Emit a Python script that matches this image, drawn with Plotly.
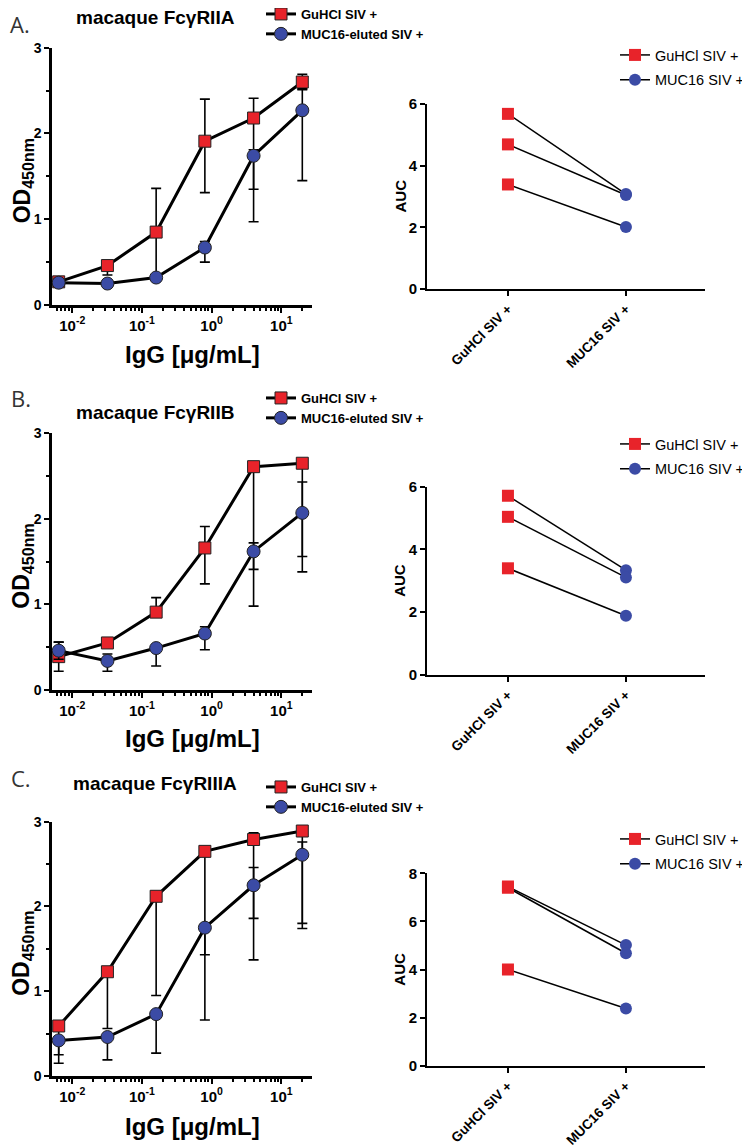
import plotly.graph_objects as go

# concentrations (5-fold dilution series, ug/mL)
igg_conc = [0.0064, 0.032, 0.16, 0.8, 4, 20]

# A. FcgRIIA
fc2a_guhcl = [0.27, 0.46, 0.85, 1.91, 2.18, 2.60]
fc2a_guhcl_up = [0.03, 0.02, 0.51, 0.49, 0.23, 0.09]
fc2a_guhcl_dn = [0.03, 0.11, 0.50, 0.60, 0.83, 0.09]
fc2a_muc16 = [0.26, 0.25, 0.32, 0.67, 1.74, 2.27]
fc2a_muc16_up = [0.0, 0.0, 0.0, 0.07, 0.07, 0.25]
fc2a_muc16_dn = [0.0, 0.0, 0.0, 0.17, 0.77, 0.82]

# B. FcgRIIB
fc2b_guhcl = [0.39, 0.55, 0.91, 1.66, 2.61, 2.65]
fc2b_guhcl_up = [0.17, 0.02, 0.17, 0.25, 0.0, 0.0]
fc2b_guhcl_dn = [0.17, 0.02, 0.0, 0.42, 1.20, 1.09]
fc2b_muc16 = [0.46, 0.34, 0.49, 0.66, 1.62, 2.07]
fc2b_muc16_up = [0.10, 0.08, 0.0, 0.08, 0.10, 0.36]
fc2b_muc16_dn = [0.10, 0.12, 0.21, 0.19, 0.64, 0.69]

# C. FcgRIIIA
fc3a_guhcl = [0.59, 1.23, 2.12, 2.65, 2.79, 2.89]
fc3a_guhcl_up = [0.0, 0.0, 0.0, 0.0, 0.08, 0.0]
fc3a_guhcl_dn = [0.34, 0.67, 1.17, 1.22, 0.93, 1.09]
fc3a_muc16 = [0.42, 0.46, 0.73, 1.75, 2.25, 2.61]
fc3a_muc16_up = [0.0, 0.0, 0.0, 0.0, 0.21, 0.15]
fc3a_muc16_dn = [0.27, 0.27, 0.46, 1.09, 0.88, 0.87]

# AUC pairs
auc_cats = ["GuHCl SIV +", "MUC16 SIV +"]
auc_a_guhcl = [5.68, 4.69, 3.39]
auc_a_muc16 = [3.08, 3.05, 2.01]
auc_b_guhcl = [5.71, 5.04, 3.40]
auc_b_muc16 = [3.34, 3.11, 1.89]
auc_c_guhcl = [7.45, 7.40, 4.01]
auc_c_muc16 = [5.02, 4.68, 2.39]

panel_letters = ["A.", "B.", "C."]
panel_titles = ["macaque FcγRIIA", "macaque FcγRIIB", "macaque FcγRIIIA"]
log_ticks = [0.01, 0.1, 1, 10]
log_ticktext = ["10<sup>-2</sup>", "10<sup>-1</sup>", "10<sup>0</sup>", "10<sup>1</sup>"]

RED = "#E8232A"
BLUE = "#3B4BA5"
FONT = "Liberation Sans, Arial, sans-serif"

# the page body has an 8px margin, so the figure is drawn 8px in from the window edge
OFF = 8
W, H = 750 - OFF, 1148 - OFF


def px(x):
    # window pixel -> paper fraction
    return (x - OFF) / W


def py(y):
    return 1 - (y - OFF) / H


fig = go.Figure()

# pixel geometry of each row (window pixels)
rows = [
    dict(l0=305, l3=47.7, r0=289, rt=104, rmax=6, title_y=17, letter_y=None, xt_y=355,
         leg_l=-1, leg_r=39),
    dict(l0=690, l3=433.3, r0=675, rt=486.7, rmax=6, title_y=412, letter_y=398, xt_y=738,
         leg_l=383, leg_r=428),
    dict(l0=1076, l3=821.7, r0=1066, rt=873.3, rmax=8, title_y=783, letter_y=778, xt_y=1126,
         leg_l=772, leg_r=823),
]

left_data = [
    (fc2a_guhcl, fc2a_guhcl_up, fc2a_guhcl_dn, fc2a_muc16, fc2a_muc16_up, fc2a_muc16_dn),
    (fc2b_guhcl, fc2b_guhcl_up, fc2b_guhcl_dn, fc2b_muc16, fc2b_muc16_up, fc2b_muc16_dn),
    (fc3a_guhcl, fc3a_guhcl_up, fc3a_guhcl_dn, fc3a_muc16, fc3a_muc16_up, fc3a_muc16_dn),
]
right_data = [
    (auc_a_guhcl, auc_a_muc16),
    (auc_b_guhcl, auc_b_muc16),
    (auc_c_guhcl, auc_c_muc16),
]

minor_vals = [m * 10 ** k for k in range(-3, 2) for m in range(2, 10)]

annotations = []
layout = {}

for i, row in enumerate(rows):
    xl, yl = 2 * i + 1, 2 * i + 1
    xr, yr = 2 * i + 2, 2 * i + 2
    xl_name = "x" if xl == 1 else f"x{xl}"
    yl_name = "y" if yl == 1 else f"y{yl}"
    xr_name, yr_name = f"x{xr}", f"y{yr}"
    leg_l = "legend" if i == 0 else f"legend{2 * i + 1}"
    leg_r = f"legend{2 * i + 2}"

    g, gu, gd, m, mu, md = left_data[i]
    fig.add_trace(go.Scatter(
        x=igg_conc, y=g, name="GuHCl SIV +", mode="lines+markers",
        line=dict(color="black", width=3),
        marker=dict(symbol="square", size=12, color=RED, line=dict(color="#222", width=1)),
        error_y=dict(type="data", symmetric=False, array=gu, arrayminus=gd,
                     color="black", thickness=1.6, width=5),
        xaxis=xl_name, yaxis=yl_name, legend=leg_l,
    ))
    fig.add_trace(go.Scatter(
        x=igg_conc, y=m, name="MUC16-eluted SIV +", mode="lines+markers",
        line=dict(color="black", width=3),
        marker=dict(symbol="circle", size=13, color=BLUE, line=dict(color="#222", width=1)),
        error_y=dict(type="data", symmetric=False, array=mu, arrayminus=md,
                     color="black", thickness=1.6, width=5),
        xaxis=xl_name, yaxis=yl_name, legend=leg_l,
    ))

    ag, am = right_data[i]
    for a, b in zip(ag, am):
        fig.add_trace(go.Scatter(
            x=auc_cats, y=[a, b], mode="lines", line=dict(color="black", width=1.5),
            showlegend=False, xaxis=xr_name, yaxis=yr_name,
        ))
    xs_g, ys_g, xs_m, ys_m = [], [], [], []
    for a in ag:
        xs_g += [auc_cats[0], None]
        ys_g += [a, None]
    for b in am:
        xs_m += [auc_cats[1], None]
        ys_m += [b, None]
    fig.add_trace(go.Scatter(
        x=xs_g, y=ys_g, name="GuHCl SIV +", mode="lines+markers",
        line=dict(color="black", width=1.5),
        marker=dict(symbol="square", size=12, color=RED),
        xaxis=xr_name, yaxis=yr_name, legend=leg_r, legendgroup=f"g{i}",
    ))
    fig.add_trace(go.Scatter(
        x=xs_m, y=ys_m, name="MUC16 SIV +", mode="lines+markers",
        line=dict(color="black", width=1.5),
        marker=dict(symbol="circle", size=12, color=BLUE),
        xaxis=xr_name, yaxis=yr_name, legend=leg_r, legendgroup=f"m{i}",
    ))

    # axes
    ytickfont = dict(family=FONT, size=14, color="black", weight="bold")
    xtickfont = dict(family=FONT, size=15, color="black", weight="bold")
    layout[("xaxis" if xl == 1 else f"xaxis{xl}")] = dict(
        type="log", range=[-2.29, 1.44], domain=[px(52), px(312)], anchor=yl_name,
        showline=True, linewidth=2.5, linecolor="black", ticks="outside", ticklen=5,
        tickwidth=2, tickcolor="black", tickvals=log_ticks, ticktext=log_ticktext,
        tickfont=xtickfont, showgrid=False, zeroline=False,
        minor=dict(tickvals=minor_vals, ticks="outside", ticklen=3, tickwidth=1.5,
                   tickcolor="black", showgrid=False),
    )
    layout[("yaxis" if yl == 1 else f"yaxis{yl}")] = dict(
        range=[0, 3], domain=[py(row["l0"]), py(row["l3"])], anchor=xl_name,
        showline=True, linewidth=2.5, linecolor="black", ticks="outside", ticklen=5,
        tickwidth=2, tickcolor="black", dtick=1, tickfont=ytickfont,
        showgrid=False, zeroline=False,
        minor=dict(dtick=0.5, ticks="outside", ticklen=3, tickwidth=1.5,
                   tickcolor="black", showgrid=False),
    )
    layout[f"xaxis{xr}"] = dict(
        type="category", categoryorder="array", categoryarray=auc_cats,
        range=[-0.686, 1.67], domain=[px(427), px(705)], anchor=yr_name,
        showline=True, linewidth=2, linecolor="black", ticks="outside", ticklen=5,
        tickwidth=1.5, tickcolor="black", tickangle=-45,
        tickfont=dict(family=FONT, size=13.5, color="black", weight="bold"),
        showgrid=False, zeroline=False,
    )
    layout[f"yaxis{yr}"] = dict(
        range=[0, row["rmax"]], domain=[py(row["r0"]), py(row["rt"])], anchor=xr_name,
        showline=True, linewidth=2, linecolor="black", ticks="outside", ticklen=5,
        tickwidth=1.5, tickcolor="black", dtick=2,
        tickfont=dict(family=FONT, size=15, color="black", weight="bold"),
        showgrid=False, zeroline=False,
    )

    # legends
    layout[leg_l] = dict(
        x=px(261), y=py(row["leg_l"]), xanchor="left", yanchor="top",
        bgcolor="rgba(0,0,0,0)", itemwidth=30,
        font=dict(family=FONT, size=13, color="black", weight="bold"),
    )
    layout[leg_r] = dict(
        x=1.0, y=py(row["leg_r"]), xanchor="right", yanchor="top",
        bgcolor="rgba(0,0,0,0)", itemwidth=30, traceorder="grouped", tracegroupgap=3,
        font=dict(family=FONT, size=14.5, color="black"),
    )

    # text
    letter = dict(text=panel_letters[i], x=px(9), xanchor="left",
                  font=dict(family="Open Sans", size=22, color="#333"))
    if row["letter_y"] is None:
        letter.update(y=1.0, yanchor="top", borderpad=0)
    else:
        letter.update(y=py(row["letter_y"]))
    annotations += [
        letter,
        dict(text=f"<b>{panel_titles[i]}</b>", x=px(155), y=py(row["title_y"]),
             font=dict(family=FONT, size=19, color="black")),
        dict(text="<b>IgG [μg/mL]</b>", x=px(192), y=py(row["xt_y"]),
             font=dict(family=FONT, size=24, color="black")),
        dict(text="<b>OD<sub>450nm</sub></b>", x=px(23), y=py((row["l0"] + row["l3"]) / 2 + 4),
             textangle=-90, font=dict(family=FONT, size=23, color="black")),
        dict(text="<b>AUC</b>", x=px(400), y=py((row["r0"] + row["rt"]) / 2),
             textangle=-90, font=dict(family=FONT, size=15, color="black")),
    ]

for a in annotations:
    a.update(xref="paper", yref="paper", showarrow=False)
    a.setdefault("yanchor", "middle")
    a.setdefault("xanchor", "center")

fig.update_layout(
    width=W, height=H,
    margin=dict(l=0, r=0, t=0, b=0, autoexpand=False),
    paper_bgcolor="white", plot_bgcolor="white",
    annotations=annotations,
    **layout,
)

fig.write_html("out.html")
